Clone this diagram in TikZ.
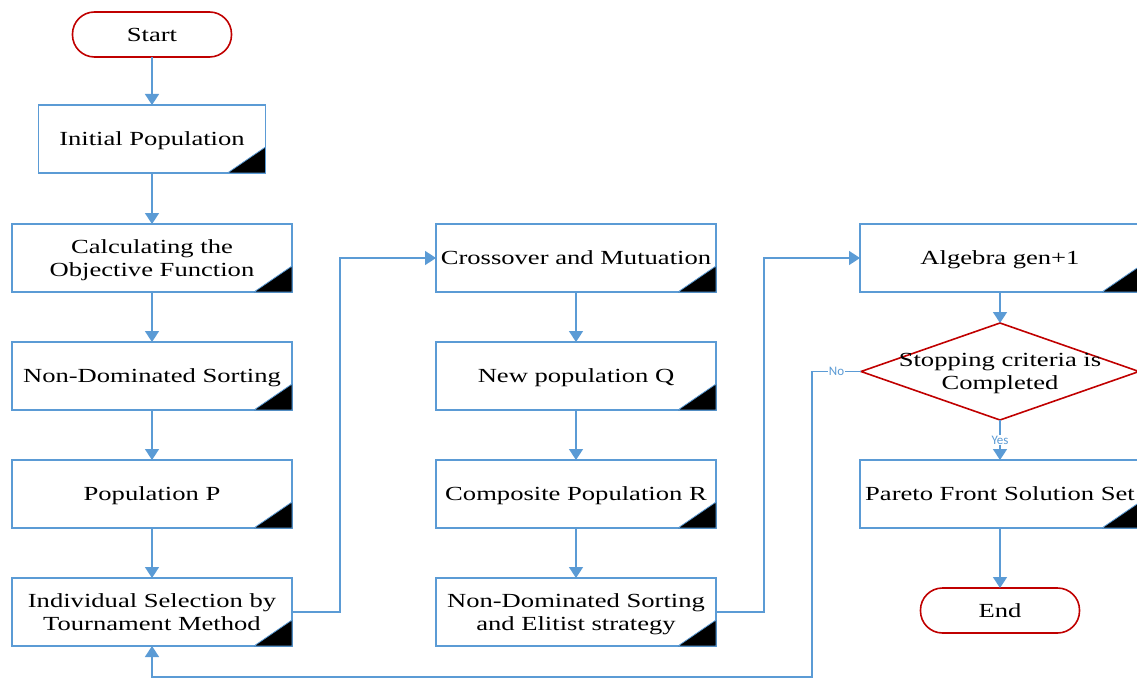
\documentclass[tikz,border=0pt]{standalone}
\usepackage{fontspec}
\setmainfont{Liberation Serif}[FakeStretch=1.33]
\newfontfamily\lblfont{Carlito}
\usepackage{tikz}
\usetikzlibrary{arrows.meta,positioning,shapes.geometric}
\definecolor{lineblue}{RGB}{91,155,213}
\definecolor{termred}{RGB}{192,0,0}
\tikzset{>={Triangle[width=14pt,length=11pt]}}
\tikzset{
  box/.style={draw=lineblue, line width=1.6pt, fill=white, minimum width=280pt, minimum height=68pt,
    align=center, inner sep=2pt, outer sep=0pt, text depth=0pt, font=\fontsize{20}{23}\selectfont},
  term/.style={draw=termred, line width=1.6pt, rounded corners=22pt, minimum width=159pt,
    minimum height=45pt, outer sep=0pt, text depth=0pt, font=\fontsize{20}{23}\selectfont},
  decision/.style={draw=termred, shape=diamond, line width=1.6pt, minimum width=278pt,
    minimum height=97pt, inner sep=0pt, outer sep=0pt},
  flow/.style={draw=lineblue, line width=1.6pt, ->},
  lbl/.style={font=\lblfont\fontsize{13}{14}\selectfont, text=lineblue, fill=white, inner sep=1pt},
}

\begin{document}
\begin{tikzpicture}[x=1pt,y=-1pt]
            \clip (0,0) rectangle (1137,679);
            % left column
            \node[box] at (152,258) (calc) {Calculating the\\Objective Function};
            \node[box, minimum width=227pt, above=51pt of calc] (init) {Initial Population};
            \node[term, above=48pt of init] (start) {Start};
            \node[box, below=50pt of calc] (nds) {Non-Dominated Sorting};
            \node[box, below=50pt of nds] (popp) {Population P};
            \node[box, below=50pt of popp] (ind) {Individual Selection by\\Tournament Method};
            % middle column
            \node[box, right=144pt of calc] (cross) {Crossover and Mutuation};
            \node[box, below=50pt of cross] (newq) {New population Q};
            \node[box, below=50pt of newq] (comp) {Composite Population R};
            \node[box, below=50pt of comp] (nde) {Non-Dominated Sorting\\and Elitist strategy};
            % right column
            \node[box, right=144pt of cross] (alg) {Algebra gen+1};
            \node[decision, below=31pt of alg] (stop) {};
            \node[align=center, text depth=0pt, font=\fontsize{20}{23}\selectfont] at (stop) (stoptxt) {Stopping criteria is\\Completed};
            \node[box, below=40pt of stop] (pareto) {Pareto Front Solution Set};
            \node[term, below=60pt of pareto] (end) {End};
            \coordinate (loop) at (812,677);
            % corner marks
            \foreach \b in {init,calc,nds,popp,ind,cross,newq,comp,nde,alg,pareto}
              \filldraw[fill=black, draw=lineblue, line width=0.8pt] ([xshift=-38pt]\b.south east) -- ([yshift=26pt]\b.south east) -- (\b.south east) -- cycle;
            % connectors
            \draw[flow] (start) to (init);
            \draw[flow] (init) to (calc);
            \draw[flow] (calc) to (nds);
            \draw[flow] (nds) to (popp);
            \draw[flow] (popp) to (ind);
            \draw[flow] (ind.east) -- ++(48,0) |- (cross.west);
            \draw[flow] (cross) to (newq);
            \draw[flow] (newq) to (comp);
            \draw[flow] (comp) to (nde);
            \draw[flow] (nde.east) -- ++(48,0) |- (alg.west);
            \draw[flow] (alg) to (stop.north);
            \draw[flow] (stop.south) to node[lbl] {Yes} (pareto);
            \draw[flow] (stop.west) -- node[lbl] {No} (stop.west -| loop) -- (loop) -| (ind.south);
            \draw[flow] (pareto) to (end);
          \end{tikzpicture}
\end{document}
